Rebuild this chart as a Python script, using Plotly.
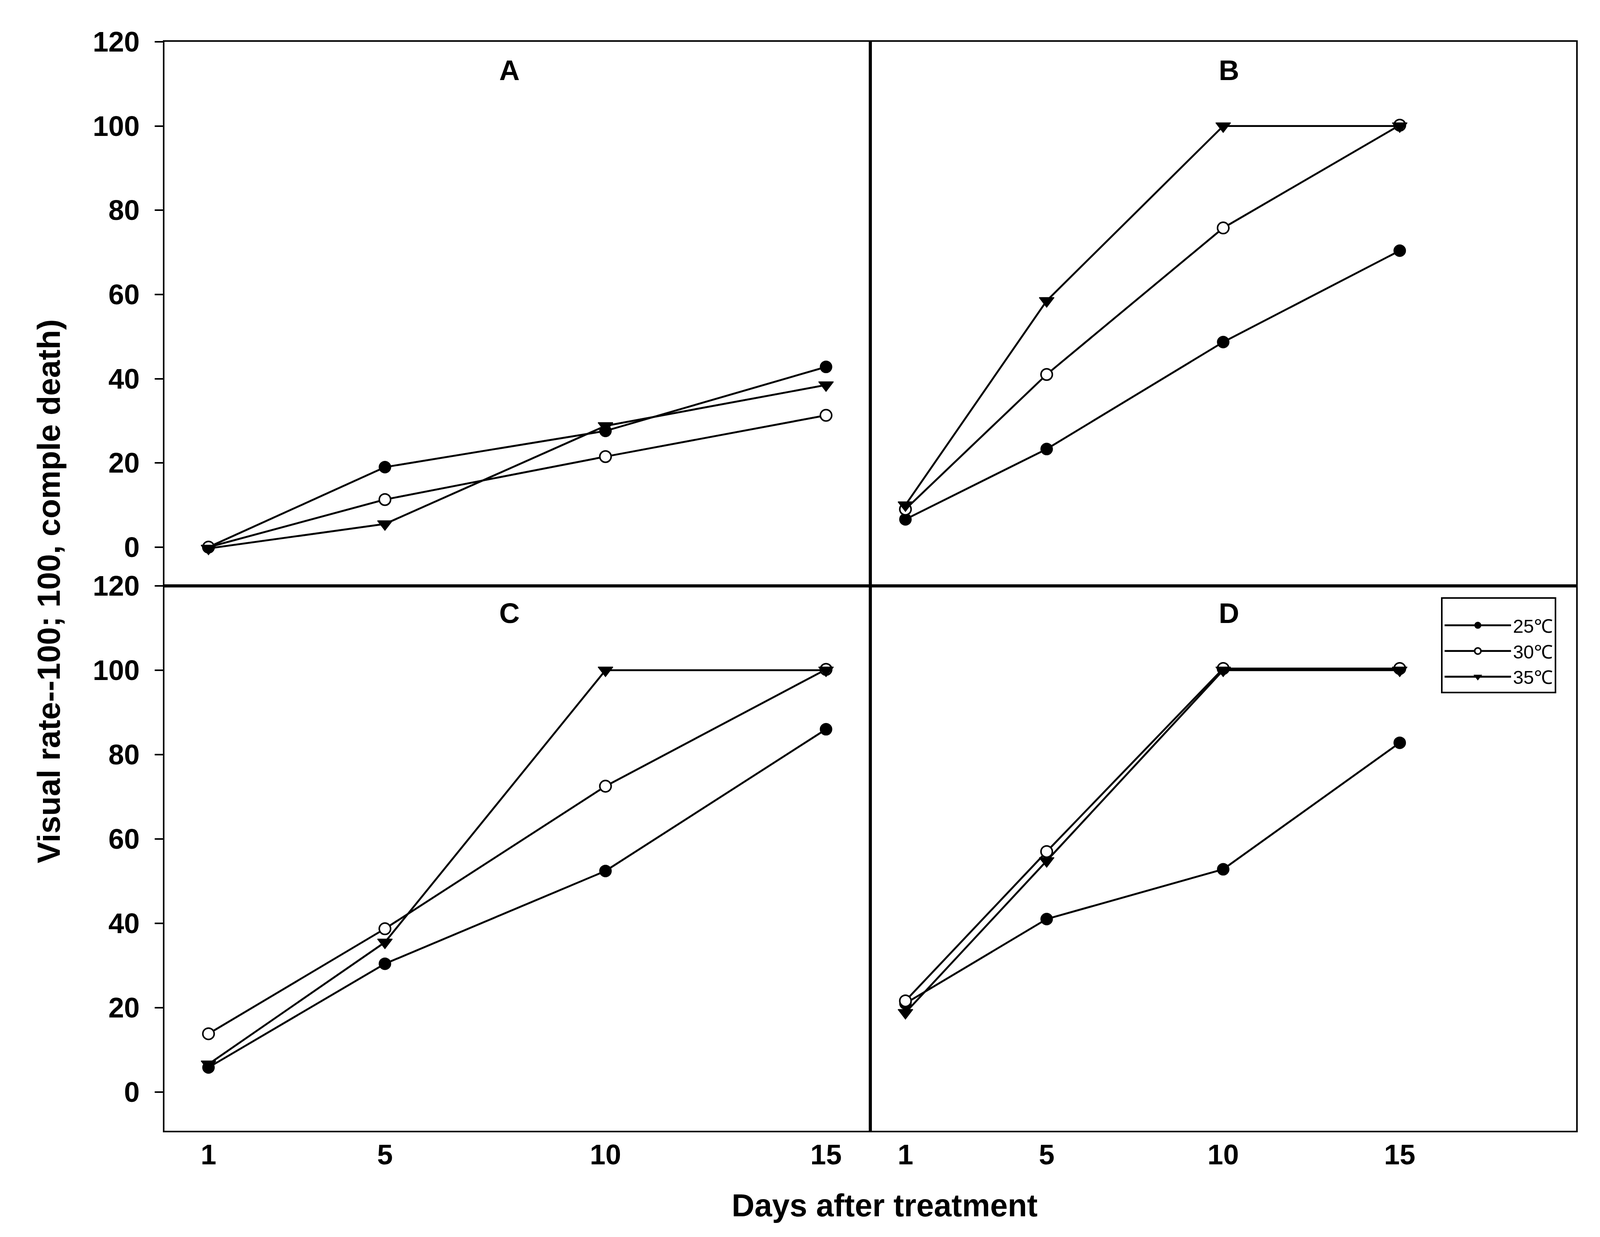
import plotly.graph_objects as go

# ---------------- data ----------------
days = [1, 5, 10, 15]
series_names = ["25℃", "30℃", "35℃"]

A_25 = [0.0, 19.0, 27.6, 42.8]
A_30 = [0.0, 11.3, 21.5, 31.3]
A_35 = [-0.3, 5.5, 28.8, 38.5]

B_25 = [6.6, 23.3, 48.7, 70.4]
B_30 = [9.0, 41.0, 75.8, 100.2]
B_35 = [10.0, 58.5, 100.0, 100.0]

C_25 = [5.8, 30.4, 52.4, 86.0]
C_30 = [13.8, 38.7, 72.5, 100.2]
C_35 = [6.6, 35.5, 100.0, 100.0]

D_25 = [21.0, 41.0, 52.8, 82.8]
D_30 = [21.6, 57.0, 100.4, 100.4]
D_35 = [18.8, 54.8, 100.0, 100.0]

panel_labels = ["A", "B", "C", "D"]
x_ticks = [1, 5, 10, 15]
y_ticks = [0, 20, 40, 60, 80, 100, 120]

panels = [
    (A_25, A_30, A_35),
    (B_25, B_30, B_35),
    (C_25, C_30, C_35),
    (D_25, D_30, D_35),
]

# ---------------- geometry helpers ----------------
# viewport is ~4096 css px wide and 3167 tall; reference is 4380 x 3167
KX = 4096 / 4380.0
KY = 1.0
KS = 0.967  # size scale for fonts / markers
OFF = 8     # body margin (css px)
W = 4080
H = 3151


def s(v):
    return v * KS


def px(xr):
    return (xr * KX - OFF) / W


def py(yr):
    return 1 - (yr * KY - OFF) / H


FONT = "Liberation Sans"
marker_styles = [
    dict(symbol="circle", size=s(31), color="black", line=dict(color="black", width=2)),
    dict(symbol="circle", size=s(30), color="white", line=dict(color="black", width=4)),
    dict(symbol="triangle-down", size=s(34), color="black", line=dict(color="black", width=2)),
]

fig = go.Figure()
for p, vals in enumerate(panels):
    ax = "" if p == 0 else str(p + 1)
    for si, yv in enumerate(vals):
        fig.add_trace(go.Scatter(
            x=days, y=yv, mode="lines+markers",
            name=series_names[si], legendgroup=series_names[si],
            showlegend=(p == 0),
            line=dict(color="black", width=s(5)),
            marker=marker_styles[si],
            xaxis="x" + ax, yaxis="y" + ax,
        ))

xl = [px(450), px(2382)]
xr = [px(2382), px(4315)]
yt = [py(1500), py(107)]
yb = [py(2895), py(1500)]
doms = [(xl, yt), (xr, yt), (xl, yb), (xr, yb)]
xranges = [[0, 16], [0, 20], [0, 16], [0, 20]]

tickfont = dict(family=FONT, size=72, color="black", weight="bold")
layout = dict(
    width=W, height=H,
    margin=dict(l=0, r=0, t=0, b=0),
    paper_bgcolor="white", plot_bgcolor="white",
    showlegend=True,
    legend=dict(
        x=px(3945), y=py(1529), xanchor="left", yanchor="top",
        bordercolor="black", borderwidth=4, bgcolor="white",
        font=dict(family=FONT, size=s(50), color="black"),
        title=dict(text=" ", font=dict(size=23)),
        itemwidth=170, tracegroupgap=0,
    ),
)
annotations = []
for p in range(4):
    ax = "" if p == 0 else str(p + 1)
    xd, yd = doms[p]
    left = p in (0, 2)
    bottom = p in (2, 3)
    layout["xaxis" + ax] = dict(
        domain=xd, range=xranges[p], anchor="y" + ax,
        showline=True, mirror=True, linecolor="black", linewidth=4.4,
        showgrid=False, zeroline=False,
        tickmode="array", tickvals=x_ticks, ticktext=[str(t) for t in x_ticks],
        ticks="", ticklen=0, showticklabels=bottom, tickfont=tickfont,
        ticklabelstandoff=-5, automargin=False,
    )
    layout["yaxis" + ax] = dict(
        domain=yd, range=[-9.2, 120], anchor="x" + ax,
        showline=True, mirror=True, linecolor="black", linewidth=4.4,
        showgrid=False, zeroline=False,
        tickmode="array", tickvals=y_ticks,
        ticks="outside" if left else "", ticklen=22 * KX, tickwidth=4, tickcolor="black",
        showticklabels=left, tickfont=tickfont,
        ticklabelstandoff=24, automargin=False,
    )
    annotations.append(dict(
        text=panel_labels[p], xref="x" + ax + " domain", yref="y" + ax + " domain",
        x=0.489 if left else 0.508, y=0.948 if p < 2 else 0.950,
        xanchor="center", yanchor="middle", showarrow=False,
        font=dict(family=FONT, size=s(75), color="black", weight="bold"),
    ))

annotations.append(dict(
    text="Days after treatment", xref="paper", yref="paper",
    x=px(2422), y=py(3086), xanchor="center", yanchor="middle", showarrow=False,
    font=dict(family=FONT, size=81, color="black", weight="bold"),
))
annotations.append(dict(
    text="Visual rate--100; 100, comple death)", xref="paper", yref="paper",
    x=px(134), y=py(1514), xanchor="center", yanchor="middle", showarrow=False,
    textangle=-90,
    font=dict(family=FONT, size=82, color="black", weight="bold"),
))
layout["annotations"] = annotations
fig.update_layout(**layout)
fig.write_html("out.html")
